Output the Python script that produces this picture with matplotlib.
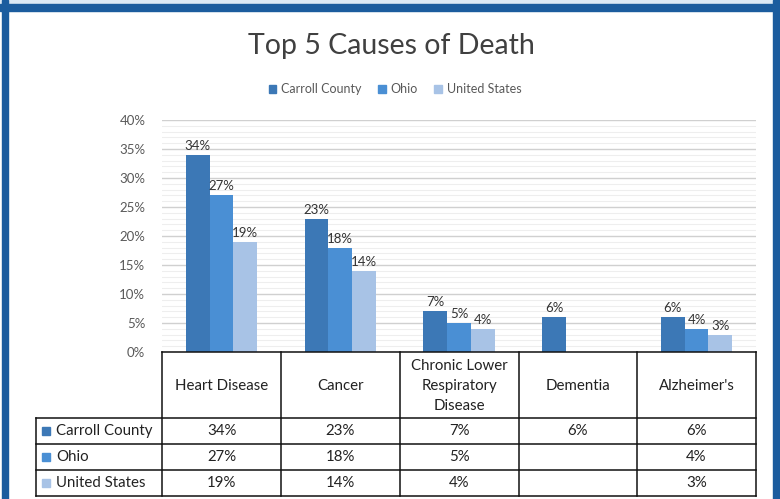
import numpy as np
from matplotlib import pyplot as plt
from matplotlib.patches import Patch, Rectangle
from matplotlib.lines import Line2D

## STYLE ##
plt.rcParams['font.family'] = ['Lato', 'DejaVu Sans']

## DATA ##
causes = ['Heart Disease', 'Cancer', 'Chronic Lower\nRespiratory\nDisease', 'Dementia', "Alzheimer's"]
series = ['Carroll County', 'Ohio', 'United States']
carroll = [34, 23, 7, 6, 6]
ohio = [27, 18, 5, np.nan, 4]
usa = [19, 14, 4, np.nan, 3]
y_ticks = [0, 5, 10, 15, 20, 25, 30, 35, 40]

colors = ['#3c78b6', '#4a8fd4', '#a8c3e6']
W, H = 780, 499


def fx(px):
    return px / W


def fy(py):
    return 1 - py / H


fig = plt.figure(figsize=(W / 100, H / 100), dpi=100)
fig.patch.set_facecolor('white')

# photo frame
fig.patches.append(Rectangle((0, fy(4)), 1, 4 / H, transform=fig.transFigure, color='#dce9f5', zorder=0))
fig.patches.append(Rectangle((0, fy(11)), 1, 7 / H, transform=fig.transFigure, color='#1b5c9e', zorder=1))
fig.patches.append(Rectangle((fx(2), 0), 6 / W, 1, transform=fig.transFigure, color='#1b5c9e', zorder=1))
fig.patches.append(Rectangle((fx(773), 0), 7 / W, 1, transform=fig.transFigure, color='#1b5c9e', zorder=1))

## BAR CHART ##
left, right, top, bottom = 162, 756, 120, 352
ax = fig.add_axes([fx(left), fy(bottom), fx(right - left), (bottom - top) / H])
x = np.arange(len(causes))
bw = 0.2
for i, (name, vals) in enumerate(zip(series, [carroll, ohio, usa])):
    pos = x + (i - 1) * bw
    bars = ax.bar(pos, vals, width=bw, color=colors[i], zorder=3)
    for p, v in zip(pos, vals):
        if not np.isnan(v):
            ax.text(p, v + 0.5, '%d%%' % v, ha='center', va='bottom', fontsize=9.5, color='#333333')

ax.set_xlim(-0.5, len(causes) - 0.5)
ax.set_ylim(0, 40)
ax.set_yticks(y_ticks)
ax.set_yticklabels(['%d%%' % t for t in y_ticks], fontsize=9.5, color='#595959')
ax.set_yticks(np.arange(0, 41, 1), minor=True)
ax.tick_params(axis='y', which='both', length=0, pad=12)
ax.set_xticks([])
ax.grid(axis='y', which='major', color='#d0d0d0', linewidth=1, zorder=0)
ax.grid(axis='y', which='minor', color='#eeeeee', linewidth=0.8, zorder=0)
for s in ax.spines.values():
    s.set_visible(False)

# title and legend
fig.text(fx(391), fy(46), 'Top 5 Causes of Death', ha='center', va='center', fontsize=20.5,
         color='#404040')
handles = [Patch(color=c) for c in colors]
fig.legend(handles, series, loc='center', bbox_to_anchor=(fx(395), fy(89)), ncol=3, frameon=False,
           fontsize=9, handlelength=0.6, handleheight=0.6, handletextpad=0.4, columnspacing=1.3,
           labelcolor='#595959')

## DATA TABLE ##
col_edges = [162, 281, 400, 519, 637, 756]
row_edges = [352, 418, 444, 470, 496]
label_left = 36


def hline(y, x0, x1):
    fig.add_artist(Line2D([fx(x0), fx(x1)], [fy(y), fy(y)], color='#111111', linewidth=1.1))


def vline(x0, y0, y1):
    fig.add_artist(Line2D([fx(x0), fx(x0)], [fy(y0), fy(y1)], color='#111111', linewidth=1.1))


hline(row_edges[0], col_edges[0], col_edges[-1])
for r in row_edges[1:]:
    hline(r, label_left, col_edges[-1])
for c in col_edges:
    vline(c, row_edges[0], row_edges[-1])
vline(label_left, row_edges[1], row_edges[-1])

for j, cause in enumerate(causes):
    cx = (col_edges[j] + col_edges[j + 1]) / 2
    fig.text(fx(cx), fy((row_edges[0] + row_edges[1]) / 2 + 1), cause, ha='center', va='center',
             fontsize=10.8, color='#222222', linespacing=1.5)

for i, (name, vals) in enumerate(zip(series, [carroll, ohio, usa])):
    cy = (row_edges[i + 1] + row_edges[i + 2]) / 2
    fig.patches.append(Rectangle((fx(42), fy(cy + 4)), 8 / W, 8 / H, transform=fig.transFigure,
                                 color=colors[i]))
    fig.text(fx(56), fy(cy), name, ha='left', va='center', fontsize=10.8, color='#222222')
    for j, v in enumerate(vals):
        if not np.isnan(v):
            cx = (col_edges[j] + col_edges[j + 1]) / 2
            fig.text(fx(cx), fy(cy), '%d%%' % v, ha='center', va='center', fontsize=10.8,
                     color='#222222')

plt.savefig('out.png', dpi=100)
